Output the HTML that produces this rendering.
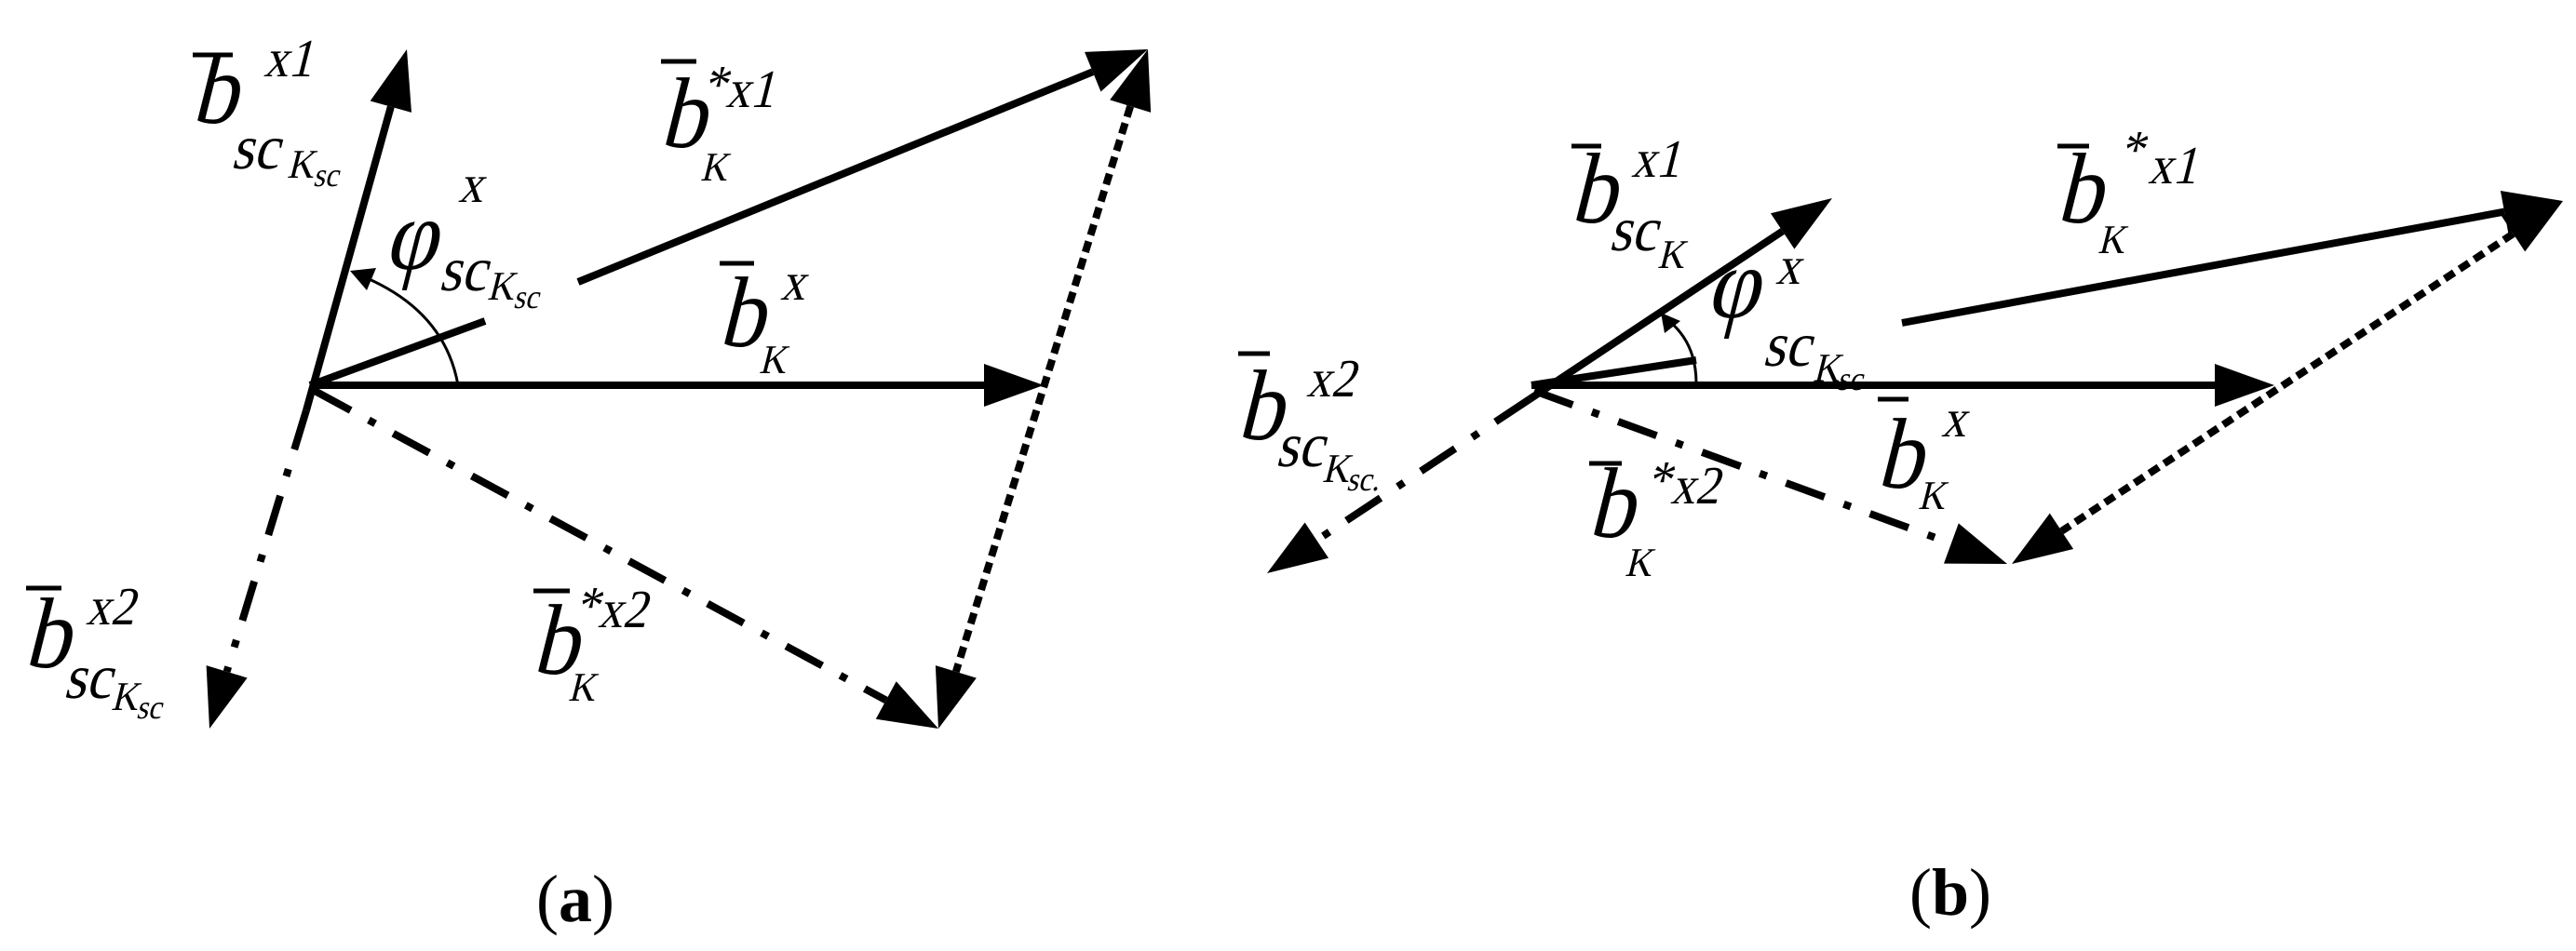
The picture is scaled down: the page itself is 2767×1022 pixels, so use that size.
<!DOCTYPE html>
<html><head><meta charset="utf-8"><style>
html,body{margin:0;padding:0;background:#fff}
svg{display:block}
text{font-family:"Liberation Serif","DejaVu Serif",serif;font-style:normal;fill:#000}
.b{font-size:108px}.sup{font-size:58px}.sub{font-size:68px}.k{font-size:44px}.ks{font-size:36px}
.cap{font-size:72px}
</style></head><body>
<svg id="s" width="2767" height="1022" viewBox="0 0 2767 1022" xmlns="http://www.w3.org/2000/svg">
<g id="g" stroke="#000" fill="none" stroke-width="8"></g>
<path d="M492,414 Q478,335 392,298" stroke="#000" stroke-width="3" fill="none"/>
<polygon points="376,291 404,288 394,312" fill="#000"/>
<path d="M1822,412 Q1822,370 1794,346" stroke="#000" stroke-width="3" fill="none"/>
<polygon points="1784,336 1805,345 1788,358" fill="#000"/>
<g stroke="#000" stroke-width="5">
<line x1="207" y1="59" x2="250" y2="59"/>
<line x1="710" y1="66" x2="748" y2="66"/>
<line x1="773" y1="283" x2="810" y2="283"/>
<line x1="573" y1="635" x2="612" y2="635"/>
<line x1="28" y1="632" x2="66" y2="632"/>
<line x1="1688" y1="157" x2="1720" y2="157"/>
<line x1="2210" y1="157" x2="2244" y2="157"/>
<line x1="2017" y1="429" x2="2050" y2="429"/>
<line x1="1707" y1="498" x2="1742" y2="498"/>
<line x1="1330" y1="380" x2="1364" y2="380"/>
</g>
<g id="labels" font-family="Liberation Serif, DejaVu Serif, serif">
<text class="b" x="205" y="132">b</text><text class="sup" x="283" y="82">x1</text>
<text class="sub" x="248" y="181">sc</text><text class="k" x="308" y="191">K</text><text class="ks" x="336" y="200">sc</text>
<text class="b" x="412" y="289">φ</text><text class="sup" x="492" y="217">x</text>
<text class="sub" x="471" y="312">sc</text><text class="k" x="523" y="322">K</text><text class="ks" x="551" y="331">sc</text>
<text class="b" x="708" y="158">b</text><text class="sup" x="754" y="110">*</text><text class="sup" x="779" y="115">x1</text><text class="k" x="752" y="194">K</text>
<text class="b" x="771" y="372">b</text><text class="sup" x="838" y="322">x</text><text class="k" x="815" y="401">K</text>
<text class="b" x="571" y="724">b</text><text class="sup" x="617" y="670">*</text><text class="sup" x="642" y="674">x2</text><text class="k" x="610" y="753">K</text>
<text class="b" x="25" y="717">b</text><text class="sup" x="92" y="671">x2</text>
<text class="sub" x="68" y="750">sc</text><text class="k" x="119" y="763">K</text><text class="ks" x="146" y="772">sc</text>
<text class="b" x="1686" y="239">b</text><text class="sup" x="1752" y="190">x1</text>
<text class="sub" x="1728" y="269">sc</text><text class="k" x="1780" y="288">K</text>
<text class="b" x="1832" y="341">φ</text><text class="sup" x="1907" y="305">x</text>
<text class="sub" x="1893" y="393">sc</text><text class="k" x="1947" y="410">K</text><text class="ks" x="1973" y="419">sc</text>
<text class="b" x="2208" y="239">b</text><text class="sup" x="2276" y="180">*</text><text class="sup" x="2307" y="197">x1</text><text class="k" x="2253" y="272">K</text>
<text class="b" x="2015" y="524">b</text><text class="sup" x="2085" y="469">x</text><text class="k" x="2060" y="547">K</text>
<text class="b" x="1705" y="577">b</text><text class="sup" x="1768" y="535">*</text><text class="sup" x="1794" y="541">x2</text><text class="k" x="1745" y="619">K</text>
<text class="b" x="1328" y="472">b</text><text class="sup" x="1403" y="426">x2</text>
<text class="sub" x="1370" y="501">sc</text><text class="k" x="1420" y="518">K</text><text class="ks" x="1446" y="527">sc.</text>
</g>
<text class="cap" x="618" y="990" text-anchor="middle">(<tspan font-weight="bold">a</tspan>)</text>
<text class="cap" x="2095" y="983" text-anchor="middle">(<tspan font-weight="bold">b</tspan>)</text>
</svg>
<script>
var g=document.getElementById('g'),NS='http://www.w3.org/2000/svg';
function el(t,a){var e=document.createElementNS(NS,t);for(var k in a)e.setAttribute(k,a[k]);g.appendChild(e);return e;}
function head(x1,y1,x2,y2,L,W){var dx=x2-x1,dy=y2-y1,d=Math.hypot(dx,dy),ux=dx/d,uy=dy/d,bx=x2-ux*L,by=y2-uy*L;
el('polygon',{points:x2+','+y2+' '+(bx-uy*W)+','+(by+ux*W)+' '+(bx+uy*W)+','+(by-ux*W),fill:'#000',stroke:'none'});return [bx,by];}
function arrow(x1,y1,x2,y2,dash,h2,h1){var L=64,W=23;var e=[x2,y2],s=[x1,y1];
if(h2)e=head(x1,y1,x2,y2,L,W);if(h1)s=head(x2,y2,x1,y1,L,W);
var a={x1:s[0],y1:s[1],x2:e[0],y2:e[1]};if(dash)a['stroke-dasharray']=dash;el('line',a);}
var DD='44 22 8 22',DT='12 7';
arrow(329,441,437,53,null,1);
arrow(333,414,521,345,null,0);
arrow(621,303,1233,53,null,1);
arrow(333,414,1121,414,null,1);
arrow(1233,53,1008,783,DT,1,1);
arrow(338,420,1008,783,DD,1);
arrow(329,441,225,783,DD,1);
arrow(1643,429,1968,213,null,1);
arrow(1645,414,1822,387,null,0);
arrow(2043,347,2753,216,null,1);
arrow(1645,414,2443,414,null,1);
arrow(2753,216,2161,606,DT,1,1);
arrow(1648,420,2156,606,DD,1);
arrow(1643,429,1361,616,DD,1);
var ts=document.querySelectorAll('#labels text');
for(var i=0;i<ts.length;i++){var t=ts[i],x=t.getAttribute('x'),y=t.getAttribute('y');
t.setAttribute('x',0);t.setAttribute('y',0);t.setAttribute('font-family','Liberation Serif');
t.setAttribute('transform','translate('+x+','+y+') skewX(-14) scale(0.9,1)');}
</script>
</body></html>
